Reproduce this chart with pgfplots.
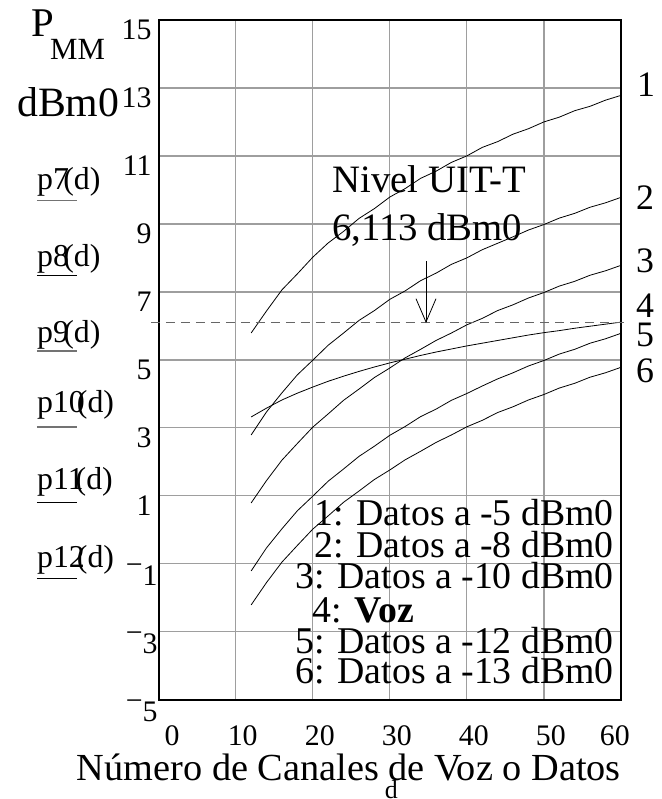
\documentclass[border=0pt]{standalone}
\usepackage{pgfplots}
\pgfplotsset{compat=1.18}
\usepackage{fontspec}
\setmainfont{Liberation Serif}
\newcommand{\mn}[1]{\raisebox{0.36em}{−}#1\kern-6bp}
\newcommand{\fs}[1]{\fontsize{#1}{#1}\selectfont}
\begin{document}
\begin{tikzpicture}
% picture frame in reference pixels: (X,Y) -> (X-159, 701-Y) bp
\begin{scope}[x=1bp,y=-1bp,shift={(-159,-701)}]
  \useasboundingbox (0,0) rectangle (663,799);
\end{scope}
\begin{axis}[
  width=463bp, height=681bp, scale only axis,
  xmin=0, xmax=60, ymin=-5, ymax=15,
  xtick={0,10,...,60}, ytick={-5,-3,...,15},
  xticklabels={\kern13bp 0,10,20,30,40,50,60\kern26bp},
  yticklabels={\mn{5},\mn{3},\mn{1},1,3,5,7,9,11,13,15},
  /pgf/number format/assume math mode=true,
  major tick length=0pt,
  grid=major,
  grid style={color=black!38, line width=1.3bp},
  axis line style={line width=1.6bp},
  xticklabel style={anchor=north, inner sep=0pt, yshift=-26bp, xshift=7bp, font=\fs{30}},
  yticklabel style={anchor=north east, inner sep=0pt, xshift=-7bp, font=\fs{30}},
  xlabel={Número de Canales de Voz o Datos},
  xlabel style={at={(axis description cs:1,0)}, anchor=base east, inner sep=0pt, yshift=-81bp, font=\fs{38.5}},
  clip=false,
  curve/.style={black, no markers, line width=0.8bp},
]
% 1: Datos a -5 dBm0
\addplot[curve] coordinates {(12,5.79) (14,6.44) (16,7.06) (18,7.53) (20,8.02) (22,8.44) (24,8.78) (26,9.16) (28,9.45) (30,9.79) (32,10.04) (34,10.34) (36,10.55) (38,10.81) (40,11.00) (42,11.25) (44,11.42) (46,11.64) (48,11.80) (50,12.00) (52,12.14) (54,12.33) (56,12.46) (58,12.64) (60,12.78)};
% 2: Datos a -8 dBm0
\addplot[curve] coordinates {(12,2.79) (14,3.47) (16,4.03) (18,4.56) (20,4.99) (22,5.43) (24,5.79) (26,6.16) (28,6.45) (30,6.78) (32,7.03) (34,7.33) (36,7.55) (38,7.81) (40,8.00) (42,8.24) (44,8.43) (46,8.62) (48,8.82) (50,8.98) (52,9.17) (54,9.31) (56,9.49) (58,9.62) (60,9.78)};
% 3: Datos a -10 dBm0
\addplot[curve] coordinates {(12,0.79) (14,1.45) (16,2.05) (18,2.54) (20,3.02) (22,3.41) (24,3.81) (26,4.14) (28,4.48) (30,4.76) (32,5.06) (34,5.31) (36,5.57) (38,5.79) (40,6.03) (42,6.22) (44,6.45) (46,6.62) (48,6.82) (50,6.98) (52,7.17) (54,7.31) (56,7.49) (58,7.62) (60,7.78)};
% 4: Voz
\addplot[curve] coordinates {(12,3.32) (14,3.58) (16,3.82) (18,4.02) (20,4.20) (22,4.37) (24,4.52) (26,4.66) (28,4.79) (30,4.91) (32,5.02) (34,5.13) (36,5.23) (38,5.32) (40,5.41) (42,5.49) (44,5.57) (46,5.65) (48,5.73) (50,5.80) (52,5.86) (54,5.93) (56,5.99) (58,6.05) (60,6.11)};
% 5: Datos a -12 dBm0
\addplot[curve] coordinates {(12,-1.21) (14,-0.53) (16,0.03) (18,0.56) (20,0.99) (22,1.43) (24,1.79) (26,2.16) (28,2.46) (30,2.78) (32,3.04) (34,3.33) (36,3.55) (38,3.81) (40,4.01) (42,4.23) (44,4.44) (46,4.62) (48,4.82) (50,4.98) (52,5.17) (54,5.31) (56,5.49) (58,5.62) (60,5.78)};
% 6: Datos a -13 dBm0
\addplot[curve] coordinates {(12,-2.21) (14,-1.55) (16,-0.95) (18,-0.46) (20,0.02) (22,0.41) (24,0.81) (26,1.14) (28,1.48) (30,1.76) (32,2.06) (34,2.31) (36,2.57) (38,2.79) (40,3.03) (42,3.22) (44,3.45) (46,3.62) (48,3.82) (50,3.98) (52,4.17) (54,4.31) (56,4.49) (58,4.62) (60,4.78)};
% Nivel UIT-T
\addplot[black!60, no markers, line width=1bp, dash pattern=on 9bp off 6bp] coordinates {(-1,6.113) (60.8,6.113)};
\draw[line width=0.8bp] (axis cs:34.7,7.90) -- (axis cs:34.7,6.113);
\draw[line width=0.8bp] (axis cs:33.4,6.80) -- (axis cs:34.7,6.113) -- (axis cs:36.0,6.80);
\end{axis}
\begin{scope}[x=1bp,y=-1bp,shift={(-159,-701)}]
  % left-hand labels
  \node[anchor=base west, inner sep=0pt, font=\fs{41}] at (31,37) {P};
  \node[anchor=base west, inner sep=0pt, font=\fs{31}] at (50,60) {MM};
  \node[anchor=base west, inner sep=0pt, font=\fs{42}] at (17,117) {dBm0};
  \node[anchor=base west, inner sep=0pt, font=\fs{32}] at (37,190) {p7\kern-0.18em(d)};
  \node[anchor=base west, inner sep=0pt, font=\fs{32}] at (37,266.7) {p8\kern-0.18em(d)};
  \node[anchor=base west, inner sep=0pt, font=\fs{32}] at (37,343.3) {p9\kern-0.18em(d)};
  \node[anchor=base west, inner sep=0pt, font=\fs{32}] at (37,413.3) {p10\kern-0.25em(d)};
  \node[anchor=base west, inner sep=0pt, font=\fs{32}] at (37,490) {p11\kern-0.25em(d)};
  \node[anchor=base west, inner sep=0pt, font=\fs{32}] at (37,568.3) {p12\kern-0.25em(d)};
  \draw[black!55, line width=1.2bp] (37,200.7) -- (77,200.7);
  \draw[black, line width=1.2bp] (37,276) -- (77,276);
  \draw[black!55, line width=1.2bp] (37,351.7) -- (77,351.7);
  \draw[black!55, line width=1.2bp] (37,427.7) -- (77,427.7);
  \draw[black, line width=1.2bp] (37,503) -- (77,503);
  \draw[black, line width=1.2bp] (37,579.3) -- (77,579.3);
  % UIT-T annotation
  \node[anchor=base, inner sep=0pt, font=\fs{39}] at (430,193.3) {Nivel UIT-T};
  \node[anchor=base, inner sep=0pt, font=\fs{39}] at (428,240.7) {6,113 dBm0};
  % curve numbers
  \node[anchor=base west, inner sep=0pt, font=\fs{36}] at (638,97) {1};
  \node[anchor=base west, inner sep=0pt, font=\fs{36}] at (637,210) {2};
  \node[anchor=base west, inner sep=0pt, font=\fs{36}] at (637,273) {3};
  \node[anchor=base west, inner sep=0pt, font=\fs{36}] at (637,318) {4};
  \node[anchor=base west, inner sep=0pt, font=\fs{36}] at (637,347) {5};
  \node[anchor=base west, inner sep=0pt, font=\fs{36}] at (637,383) {6};
  % key
  \node[anchor=base east, inner sep=0pt, font=\fs{38}] at (615,526.7) {1: Datos a -5 dBm0};
  \node[anchor=base east, inner sep=0pt, font=\fs{38}] at (615,558.3) {2: Datos a -8 dBm0};
  \node[anchor=base east, inner sep=0pt, font=\fs{38}] at (615,590) {3: Datos a -10 dBm0};
  \node[anchor=base west, inner sep=0pt, font=\fs{38}] at (313,623.3) {4: \textbf{Voz}};
  \node[anchor=base east, inner sep=0pt, font=\fs{38}] at (615,655) {5: Datos a -12 dBm0};
  \node[anchor=base east, inner sep=0pt, font=\fs{38}] at (615,685) {6: Datos a -13 dBm0};
  % variable under the x label
  \node[anchor=north, inner sep=0pt, font=\fs{26}] at (392,782) {d};
\end{scope}
\end{tikzpicture}
\end{document}
